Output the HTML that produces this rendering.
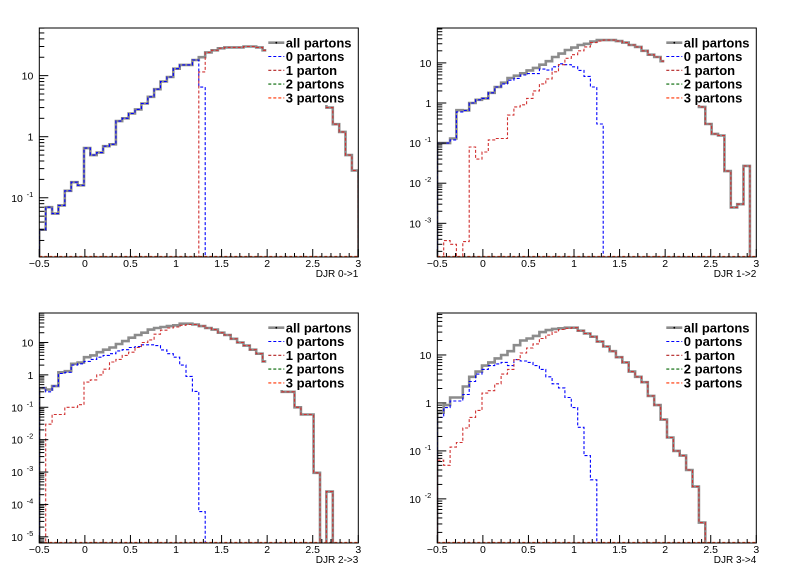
<!DOCTYPE html>
<html><head><meta charset="utf-8"><style>
html,body{margin:0;padding:0;background:#fff;}
svg{display:block;font-family:"Liberation Sans",Arial,sans-serif;}
</style></head><body>
<svg id="c" width="796" height="572" viewBox="0 0 796 572"></svg>
<script>
const N=null;
const binStart=-0.5, binWidth=0.07;
const xTickLabels=["\u22120.5","0","0.5","1","1.5","2","2.5","3"];
const xTickValues=[-0.5,0,0.5,1,1.5,2,2.5,3];
const legendLabels=["all partons","0 partons","1 parton","2 partons","3 partons"];
const panelTitles=["DJR 0->1","DJR 1->2","DJR 2->3","DJR 3->4"];

const p1All=[0.03,0.07,0.055,0.075,0.13,0.18,0.16,0.65,0.5,0.55,0.7,0.75,1.8,2.0,2.4,2.8,3.5,4.5,6,8,9.5,13,15,15,18,20,24,26,28,29,29,29,30,30,29,26,22,18,14,11,8.5,7,5.5,4.2,3.5,3.0,1.6,1.2,0.5,0.28];
const p1Zero=[0.03,0.07,0.055,0.075,0.13,0.18,0.16,0.65,0.5,0.55,0.7,0.75,1.8,2.0,2.4,2.8,3.5,4.5,6,8,9.5,13,15,15,18,6.5,N,N,N,N,N,N,N,N,N,N,N,N,N,N,N,N,N,N,N,N,N,N,N,N];
const p1One=[N,N,N,N,N,N,N,N,N,N,N,N,N,N,N,N,N,N,N,N,N,N,N,N,N,11.5,24,26,28,29,29,29,30,30,29,26,22,18,14,11,8.5,7,5.5,4.2,3.5,3.0,1.6,1.2,0.5,0.28];

const p2All=[0.1,0.1,0.13,0.66,0.65,1.0,1.2,1.3,1.8,2.5,3.2,4.2,4.8,5.5,6.5,7.5,9,11,14,17,21,24,28,30,34,37,37,37,35,32,28,25,20,16,14,11,8,6,4.5,3,2,0.8,0.3,0.17,0.155,0.02,0.0025,0.003,0.027,N];
const p2Zero=[0.1,0.1,0.12,0.6,0.65,1.0,1.2,1.3,1.8,2.5,3,3.7,4.1,5,5.4,5.4,7,6.6,8,9.5,9,8,6.5,4.6,2.5,0.3,N,N,N,N,N,N,N,N,N,N,N,N,N,N,N,N,N,N,N,N,N,N,N,N];
const p2One=[N,0.00037,0.0003,N,0.00035,0.08,0.04,0.06,0.12,0.13,0.13,0.5,0.8,0.9,1.3,2,3,4,6,9,13,16,20,25,32,35,37,37,35,32,28,25,20,16,14,11,8,6,4.5,3,2,0.8,0.3,0.17,0.155,0.02,0.0025,0.003,0.027,N];

const p3All=[0.39,0.35,0.45,1.2,1.3,2.2,2.4,3.5,4,5,6,7,9,11,14,17,20,25,28,30,32,34,38,38,36,32,28,25,20,17,13,10,8,6,4.5,2.6,1.6,0.8,0.3,0.3,0.1,0.06,0.06,0.00095,N,0.00025,N,N,N,N];
const p3Zero=[0.4,0.3,0.45,1.1,1.2,2,2.2,2.6,3,3.5,4,4.5,5.5,6,7,7.5,8.5,8.5,8,5.9,4.5,3.5,2,0.9,0.31,0.00006,N,N,N,N,N,N,N,N,N,N,N,N,N,N,N,N,N,N,N,N,N,N,N,N];
const p3One=[N,0.03,0.06,0.06,0.1,0.1,0.12,0.6,0.7,1,1.5,2.5,3,4,5,7,10,12,18,24,28,30,34,36,36,32,28,25,20,17,13,10,8,6,4.5,2.6,1.6,0.8,0.3,0.3,0.1,0.06,0.06,0.00095,N,0.00025,N,N,N,N];

const p4All=[0.63,0.9,1.3,1.3,2.2,3.5,4.5,6,7,8.5,10,12,16,20,22,25,30,33,35,36,37,37,32,28,24,19,15,12,9,7,4.5,3.5,2.7,1.4,0.9,0.45,0.19,0.1,0.08,0.04,0.018,0.0032,N,N,N,N,N,N,N,N];
const p4Zero=[0.5,0.8,1.1,1.1,1.5,2.8,4,5,6,6.5,7,6,8,7.5,7,6,5,3.5,2.5,2.06,1.3,0.8,0.31,0.08,0.025,N,N,N,N,N,N,N,N,N,N,N,N,N,N,N,N,N,N,N,N,N,N,N,N,N];
const p4One=[0.064,0.05,0.12,0.15,0.3,0.5,0.7,1.6,1.8,2.5,4,5,8,11,14,17,22,26,30,34,36,37,32,28,24,19,15,12,9,7,4.5,3.5,2.7,1.4,0.9,0.45,0.19,0.1,0.08,0.04,0.018,0.0032,N,N,N,N,N,N,N,N];

const svg=document.getElementById('c');
const NS='http://www.w3.org/2000/svg';
function mk(tag,attrs,parent){const e=document.createElementNS(NS,tag);for(const k in attrs)e.setAttribute(k,attrs[k]);(parent||svg).appendChild(e);return e;}

const panels=[
 {L:39.3,R:358.3,T:28,B:257,lo:-1.97,hi:1.78,dmin:-1,all:p1All,zero:p1Zero,one:p1One},
 {L:437.3,R:756.3,T:28,B:257,lo:-3.84,hi:1.87,dmin:-3,all:p2All,zero:p2Zero,one:p2One},
 {L:39.3,R:358.3,T:313,B:543,lo:-5.19,hi:1.91,dmin:-5,all:p3All,zero:p3Zero,one:p3One},
 {L:437.3,R:756.3,T:313,B:543,lo:-2.92,hi:1.875,dmin:-2,all:p4All,zero:p4Zero,one:p4One}
];

panels.forEach((p,pi)=>{
  const g=mk('g',{});
  
  
  const xs=v=>p.L+(v+0.5)/3.5*(p.R-p.L);
  const ys=v=>{if(v==null||v<=0)return p.B+2;const l=Math.log10(v);return Math.min(p.B+2,p.B-(l-p.lo)/(p.hi-p.lo)*(p.B-p.T));};
  const cid='clip'+pi;
  const cp=mk('clipPath',{id:cid},g);mk('rect',{x:p.L,y:p.T,width:p.R-p.L,height:p.B-p.T},cp);
  function series(arr,color,w,dash,name){
    let d='M'+xs(binStart).toFixed(1)+' '+(p.B+2);
    arr.forEach((v,i)=>{const x0=xs(binStart+i*binWidth),x1=xs(binStart+(i+1)*binWidth),y=ys(v);d+=' L'+x0.toFixed(1)+' '+y.toFixed(1)+' L'+x1.toFixed(1)+' '+y.toFixed(1);});
    d+=' L'+xs(binStart+arr.length*binWidth).toFixed(1)+' '+(p.B+2);
    const a={d:d,fill:'none',stroke:color,'stroke-width':w,'clip-path':'url(#'+cid+')'};
    if(dash)a['stroke-dasharray']=dash;
    const e=mk('path',a,g);
    
    
  }
  series(p.all,'#8c8c8c',2.6,null,'all-partons-series');
  series(p.zero,'#0000ff',1.1,'3,2','zero-partons-series');
  series(p.one,'#d03030',1.1,'3,2','one-parton-series');
  // bottom dashed baseline
  const bl=mk('line',{x1:p.L,x2:p.R,y1:p.B-0.5,y2:p.B-0.5,stroke:'#ff4a1a','stroke-width':1.2,'stroke-dasharray':'3,2'},g);
  
  
  // legend
  const lg=mk('g',{},g);
  
  
  mk('rect',{x:p.L+227,y:p.T+1,width:p.R-p.L-228,height:76,fill:'#fff'},lg);
  const cols=['#8c8c8c','#0000ff','#b22222','#006600','#ff3300'];
  legendLabels.forEach((t,k)=>{
    const y=p.T+14.7+k*13.8;
    const en=mk('g',{},lg);
    
    
    if(k==0){mk('line',{x1:p.L+229,x2:p.L+245,y1:y,y2:y,stroke:cols[k],'stroke-width':2.6},en);mk('circle',{cx:p.L+237,cy:y,r:0.9,fill:'#000'},en);}
    else mk('line',{x1:p.L+229,x2:p.L+245,y1:y,y2:y,stroke:cols[k],'stroke-width':1.1,'stroke-dasharray':'3,2'},en);
    const tx=mk('text',{x:p.L+246.5,y:y+4.6,'font-size':'13','font-weight':'bold',fill:'#000'},en);
    tx.textContent=t;
  });
  // frame
  const fr=mk('rect',{x:p.L,y:p.T,width:p.R-p.L,height:p.B-p.T,fill:'none',stroke:'#000','stroke-width':1},g);
  
  
  // x ticks
  const xa=mk('g',{},g);
  
  
  for(let k=0;k<=35;k++){const v=-0.5+k*0.1;const x=xs(v);const len=(k%5==0)?8:4;mk('line',{x1:x,x2:x,y1:p.B,y2:p.B-len,stroke:'#000','stroke-width':1},xa);}
  xTickValues.forEach((v,k)=>{const t=mk('text',{x:xs(v),y:p.B+10,'font-size':'10.5','text-anchor':'middle',fill:'#000'},xa);t.textContent=xTickLabels[k];});
  const xt=mk('text',{x:p.R,y:p.B+20,'font-size':'10','text-anchor':'end',fill:'#000'},xa);
  
  
  xt.textContent=panelTitles[pi];
  // y ticks
  const ya=mk('g',{},g);
  
  
  for(let d=Math.floor(p.lo);d<=Math.ceil(p.hi);d++){
    for(let m=1;m<10;m++){const l=d+Math.log10(m);if(l<p.lo||l>p.hi)continue;const y=p.B-(l-p.lo)/(p.hi-p.lo)*(p.B-p.T);mk('line',{x1:p.L,x2:p.L+(m==1?9:5),y1:y,y2:y,stroke:'#000','stroke-width':1},ya);}
    if(d>=p.dmin&&d<=1){
      const y=p.B-(d-p.lo)/(p.hi-p.lo)*(p.B-p.T);
      const t=mk('text',{x:p.L-6,y:y+4,'font-size':'10.5','text-anchor':'end',fill:'#000'},ya);
      if(d==1)t.textContent='10';else if(d==0)t.textContent='1';
      else{t.setAttribute('x',p.L-6-(String(d).length*5.2));t.textContent='10';const s=mk('text',{x:p.L-6,y:y-1,'font-size':'7.5','text-anchor':'end',fill:'#000'},ya);s.textContent=String(d);}
    }
  }
});
</script>
</body></html>
